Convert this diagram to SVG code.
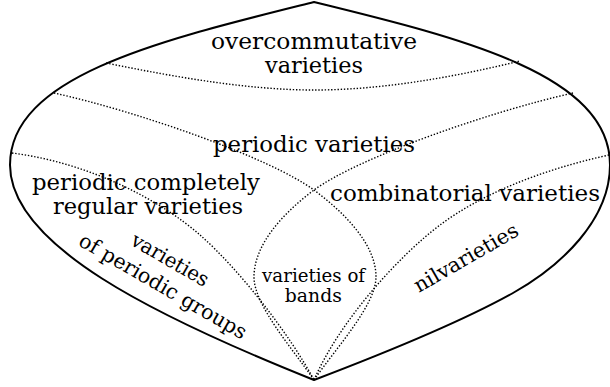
<svg xmlns="http://www.w3.org/2000/svg" width="610" height="387" viewBox="0 0 610 387">
<style>
.outer{fill:none;stroke:#000;stroke-width:2}
.dot{fill:none;stroke:#000;stroke-width:1.4;stroke-dasharray:1.4 1.8}
text{font-family:"DejaVu Serif","Liberation Serif",serif;fill:#000;text-anchor:middle}
.m{font-size:23px}
.r{font-size:20.5px}
.s{font-size:18.5px}
</style>
<rect width="610" height="387" fill="#fff"/>
<g id="outline">
<path class="outer" d="M314,2 C464,38.6 610,75 610,165 C610,220 561,266 513,293 C460.6,322.3 370,358.7 314,380 C154,316 10,245 10,165 C10,75 164,39.5 314,2 Z"/>
</g>
<g id="connectors">
<path class="dot" d="M106,63 C180,78 250,90 314,90 C380,90 450,78 520,61"/>
<path class="dot" d="M54,93 C140,112 270,158 314,190 C346,214 376,245 376,277 C376,305 336,348 314,380"/>
<path class="dot" d="M573,93 C488,112 358,158 314,190 C282,214 254,245 254,277 C254,305 292,348 314,380"/>
<path class="dot" d="M12,153 C90,163 160,200 200,235 C240,270 290,335 314,380"/>
<path class="dot" d="M609,155 C540,170 480,195 440,225 C400,255 340,320 314,380"/>
</g>
<g id="overcommutative">
<text class="m" x="314" y="49.3" textLength="206" lengthAdjust="spacingAndGlyphs">overcommutative</text>
<text class="m" x="314" y="73.3" textLength="98" lengthAdjust="spacingAndGlyphs">varieties</text>
</g>
<g id="periodic">
<text class="m" x="314" y="151.7" textLength="202" lengthAdjust="spacingAndGlyphs">periodic varieties</text>
</g>
<g id="completely-regular">
<text class="m" x="146" y="189.5" textLength="228" lengthAdjust="spacingAndGlyphs">periodic completely</text>
<text class="m" x="148" y="214" textLength="190" lengthAdjust="spacingAndGlyphs">regular varieties</text>
</g>
<g id="combinatorial">
<text class="m" x="465" y="200.5" textLength="270" lengthAdjust="spacingAndGlyphs">combinatorial varieties</text>
</g>
<g id="groups">
<text class="r" transform="translate(166.7,265.7) rotate(30)" textLength="86" lengthAdjust="spacingAndGlyphs">varieties</text>
<text class="r" transform="translate(159.5,292.2) rotate(30)" textLength="190" lengthAdjust="spacingAndGlyphs">of periodic groups</text>
</g>
<g id="nil">
<text class="r" transform="translate(469.4,263.8) rotate(-30)" textLength="117" lengthAdjust="spacingAndGlyphs">nilvarieties</text>
</g>
<g id="bands">
<text class="s" x="313.6" y="281.7" textLength="103" lengthAdjust="spacingAndGlyphs">varieties of</text>
<text class="s" x="313.3" y="302.3" textLength="57" lengthAdjust="spacingAndGlyphs">bands</text>
</g>
</svg>
